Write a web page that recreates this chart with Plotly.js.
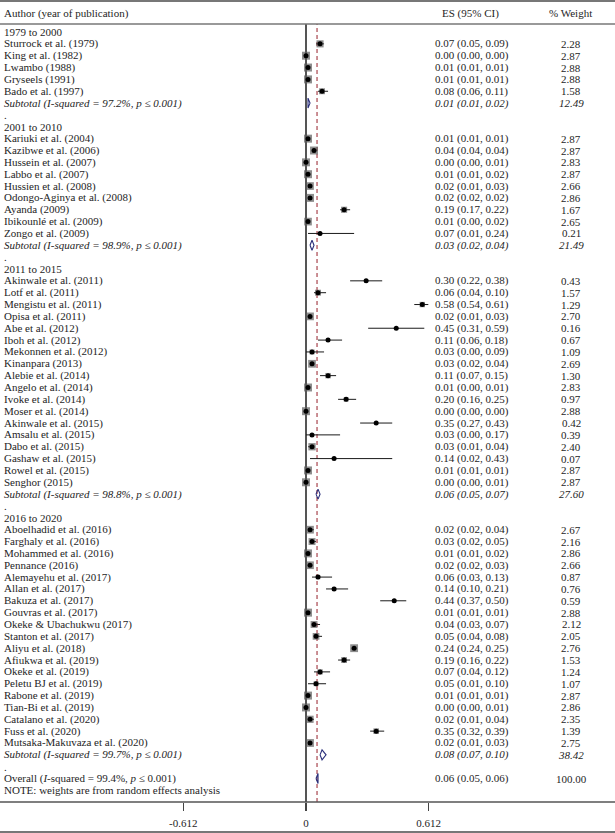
<!DOCTYPE html>
<html>
<head>
<meta charset="utf-8">
<script src="https://cdn.plot.ly/plotly-3.0.1.min.js"></script>
<style>
  html, body { margin: 0; padding: 0; background: #fff; }
  #chart { width: 615px; height: 833px; }
</style>
</head>
<body>
<div id="chart"></div>
<script>
// group headings and subtotal stats
const groupLabels = ['1979 to 2000', '2001 to 2010', '2011 to 2015', '2016 to 2020'];
const groupI2 = ['97.2%', '98.9%', '98.8%', '99.7%'];
const subEs = [0.01, 0.03, 0.06, 0.08];
const subLo = [0.01, 0.02, 0.05, 0.07];
const subHi = [0.02, 0.04, 0.07, 0.10];
const subWeight = [12.49, 21.49, 27.60, 38.42];

// studies
const studyNames = [
  'Sturrock et al. (1979)', 'King et al. (1982)', 'Lwambo (1988)', 'Gryseels (1991)', 'Bado et al. (1997)',
  'Kariuki et al. (2004)', 'Kazibwe et al. (2006)', 'Hussein et al. (2007)', 'Labbo et al. (2007)',
  'Hussien et al. (2008)', 'Odongo-Aginya et al. (2008)', 'Ayanda (2009)', 'Ibikounlé et al. (2009)', 'Zongo et al. (2009)',
  'Akinwale et al. (2011)', 'Lotf et al. (2011)', 'Mengistu et al. (2011)', 'Opisa et al. (2011)', 'Abe et al. (2012)',
  'Iboh et al. (2012)', 'Mekonnen et al. (2012)', 'Kinanpara (2013)', 'Alebie et al. (2014)', 'Angelo et al. (2014)',
  'Ivoke et al. (2014)', 'Moser et al. (2014)', 'Akinwale et al. (2015)', 'Amsalu et al. (2015)', 'Dabo et al. (2015)',
  'Gashaw et al. (2015)', 'Rowel et al. (2015)', 'Senghor (2015)',
  'Aboelhadid et al. (2016)', 'Farghaly et al. (2016)', 'Mohammed et al. (2016)', 'Pennance (2016)',
  'Alemayehu et al. (2017)', 'Allan et al. (2017)', 'Bakuza et al. (2017)', 'Gouvras et al. (2017)',
  'Okeke & Ubachukwu (2017)', 'Stanton et al. (2017)', 'Aliyu et al. (2018)', 'Afiukwa et al. (2019)',
  'Okeke et al. (2019)', 'Peletu BJ et al. (2019)', 'Rabone et al. (2019)', 'Tian-Bi et al. (2019)',
  'Catalano et al. (2020)', 'Fuss et al. (2020)', 'Mutsaka-Makuvaza et al. (2020)'
];
const studyGroup = [
  0, 0, 0, 0, 0,
  1, 1, 1, 1, 1, 1, 1, 1, 1,
  2, 2, 2, 2, 2, 2, 2, 2, 2, 2, 2, 2, 2, 2, 2, 2, 2, 2,
  3, 3, 3, 3, 3, 3, 3, 3, 3, 3, 3, 3, 3, 3, 3, 3, 3, 3, 3
];
const studyEs = [
  0.07, 0.00, 0.01, 0.01, 0.08,
  0.01, 0.04, 0.00, 0.01, 0.02, 0.02, 0.19, 0.01, 0.07,
  0.30, 0.06, 0.58, 0.02, 0.45, 0.11, 0.03, 0.03, 0.11, 0.01, 0.20, 0.00, 0.35, 0.03, 0.03, 0.14, 0.01, 0.00,
  0.02, 0.03, 0.01, 0.02, 0.06, 0.14, 0.44, 0.01, 0.04, 0.05, 0.24, 0.19, 0.07, 0.05, 0.01, 0.00, 0.02, 0.35, 0.02
];
const studyLo = [
  0.05, 0.00, 0.01, 0.01, 0.06,
  0.01, 0.04, 0.00, 0.01, 0.01, 0.02, 0.17, 0.00, 0.01,
  0.22, 0.04, 0.54, 0.01, 0.31, 0.06, 0.00, 0.02, 0.07, 0.00, 0.16, 0.00, 0.27, 0.00, 0.01, 0.02, 0.01, 0.00,
  0.02, 0.02, 0.01, 0.02, 0.03, 0.10, 0.37, 0.01, 0.03, 0.04, 0.24, 0.16, 0.04, 0.01, 0.01, 0.00, 0.01, 0.32, 0.01
];
const studyHi = [
  0.09, 0.00, 0.01, 0.01, 0.11,
  0.01, 0.04, 0.01, 0.02, 0.03, 0.02, 0.22, 0.02, 0.24,
  0.38, 0.10, 0.61, 0.03, 0.59, 0.18, 0.09, 0.04, 0.15, 0.01, 0.25, 0.00, 0.43, 0.17, 0.04, 0.43, 0.01, 0.01,
  0.04, 0.05, 0.02, 0.03, 0.13, 0.21, 0.50, 0.01, 0.07, 0.08, 0.25, 0.22, 0.12, 0.10, 0.01, 0.01, 0.04, 0.39, 0.03
];
const studyWeight = [
  2.28, 2.87, 2.88, 2.88, 1.58,
  2.87, 2.87, 2.83, 2.87, 2.66, 2.86, 1.67, 2.65, 0.21,
  0.43, 1.57, 1.29, 2.70, 0.16, 0.67, 1.09, 2.69, 1.30, 2.83, 0.97, 2.88, 0.42, 0.39, 2.40, 0.07, 2.87, 2.87,
  2.67, 2.16, 2.86, 2.66, 0.87, 0.76, 0.59, 2.88, 2.12, 2.05, 2.76, 1.53, 1.24, 1.07, 2.87, 2.86, 2.35, 1.39, 2.75
];

// overall pooled estimate
const overallI2 = '99.4%';
const overallEs = 0.06;
const overallLo = 0.05;
const overallHi = 0.06;
const overallWeight = 100.00;

const tickVals = [-0.612, 0, 0.612];
const tickText = ['-0.612', '0', '0.612'];

const FONT = 'Liberation Serif, Times New Roman, serif';
const TXT = '#1e1e1e';
const FS = 11;

function ci(e, l, h) {
  return e.toFixed(2) + ' (' + l.toFixed(2) + ', ' + h.toFixed(2) + ')';
}

// build row layout
const rows = [];
const sRow = [];
const dRow = [];
let r = 0;
groupLabels.forEach(function (g, gi) {
  rows.push({ y: r++, label: g });
  studyNames.forEach(function (n, i) {
    if (studyGroup[i] !== gi) return;
    sRow[i] = r;
    rows.push({ y: r++, label: n, es: ci(studyEs[i], studyLo[i], studyHi[i]), w: studyWeight[i].toFixed(2) });
  });
  dRow[gi] = r;
  rows.push({
    y: r++, italic: true,
    label: 'Subtotal (I-squared = ' + groupI2[gi] + ', p ≤ 0.001)',
    es: ci(subEs[gi], subLo[gi], subHi[gi]), w: subWeight[gi].toFixed(2)
  });
  rows.push({ y: r++, label: '.' });
});
const overallRow = r;
rows.push({
  y: r++, label: 'Overall (<i>I</i>-squared = ' + overallI2 + ', <i>p</i> ≤ 0.001)',
  es: ci(overallEs, overallLo, overallHi), w: overallWeight.toFixed(2)
});
rows.push({ y: r++, label: 'NOTE: weights are from random effects analysis' });

const annotations = [];
function addText(x, y, text, anchor, italic, yref) {
  annotations.push({
    xref: 'paper', yref: yref || 'y', x: x, y: y, text: italic ? '<i>' + text + '</i>' : text,
    xanchor: anchor, yanchor: 'middle', showarrow: false,
    font: { family: FONT, size: FS, color: TXT }, borderpad: 0
  });
}
rows.forEach(function (row) {
  addText(3 / 615, row.y, row.label, 'left', row.italic);
  if (row.es) addText(434 / 615, row.y, row.es, 'left', row.italic);
  if (row.w) addText(571 / 615, row.y, row.w, 'center', row.italic);
});
// column headers (above the plot area)
const hdrY = 1 + 11 / 778;
addText(3 / 615, hdrY, 'Author (year of publication)', 'left', false, 'paper');
addText(441 / 615, hdrY, 'ES (95% CI)', 'left', false, 'paper');
addText(570 / 615, hdrY, '% Weight', 'center', false, 'paper');

// CI whiskers
const ciX = [], ciY = [];
studyNames.forEach(function (n, i) {
  ciX.push(studyLo[i], studyHi[i], null);
  ciY.push(sRow[i], sRow[i], null);
});

// diamonds for subtotals and overall
const dmX = [], dmY = [];
const dh = 0.42;
function diamond(e, l, h, y) {
  dmX.push(l, e, h, e, l, null);
  dmY.push(y, y - dh, y, y + dh, y, null);
}
subEs.forEach(function (e, gi) { diamond(e, subLo[gi], subHi[gi], dRow[gi]); });
diamond(overallEs, overallLo, overallHi, overallRow);

const traces = [
  {
    x: ciX, y: ciY, mode: 'lines', type: 'scatter', hoverinfo: 'skip',
    line: { color: '#1a1a1a', width: 1 }
  },
  {
    x: studyEs, y: sRow, mode: 'markers', type: 'scatter',
    marker: {
      symbol: 'square', color: '#5e5e5e',
      size: studyWeight.map(function (w) { return 8 * Math.sqrt(w / 2.88); }),
      line: { width: 0 }
    }
  },
  {
    x: studyEs, y: sRow, mode: 'markers', type: 'scatter',
    marker: { symbol: 'circle', color: '#000', size: 5, line: { width: 0 } }
  },
  {
    x: dmX, y: dmY, mode: 'lines', type: 'scatter', hoverinfo: 'skip',
    line: { color: '#2a2f7a', width: 1.1 }
  }
];

const pTop = 1 + 23 / 778;
const pBot = -30 / 778;

const layout = {
  width: 615, height: 833,
  margin: { l: 0, r: 0, t: 24, b: 31 },
  paper_bgcolor: '#fff', plot_bgcolor: '#fff',
  showlegend: false,
  xaxis: {
    range: [-306 / 200.5, 309 / 200.5],
    tickvals: tickVals, ticktext: tickText,
    ticks: 'outside', ticklen: 8, tickwidth: 1.2, tickcolor: '#444',
    ticklabelstandoff: 3,
    tickfont: { family: FONT, size: FS, color: TXT },
    showgrid: false, showline: false,
    zeroline: true, zerolinecolor: '#555', zerolinewidth: 1.4,
    fixedrange: true
  },
  yaxis: {
    range: [64.98, -0.675],
    showticklabels: false, showgrid: false, zeroline: false, ticks: '',
    fixedrange: true
  },
  shapes: [
    { type: 'line', xref: 'paper', yref: 'paper', x0: 0, x1: 1, y0: pTop, y1: pTop, line: { color: '#777', width: 2 } },
    { type: 'line', xref: 'paper', yref: 'paper', x0: 0, x1: 1, y0: 1, y1: 1, line: { color: '#777', width: 1.5 } },
    { type: 'line', xref: 'paper', yref: 'paper', x0: 0, x1: 1, y0: 0, y1: 0, line: { color: '#555', width: 1.4 } },
    { type: 'line', xref: 'paper', yref: 'paper', x0: 0, x1: 1, y0: pBot, y1: pBot, line: { color: '#777', width: 2 } },
    {
      type: 'line', xref: 'x', yref: 'paper', x0: overallEs - 0.005, x1: overallEs - 0.005, y0: 0, y1: 1,
      line: { color: '#a8444e', width: 1.2, dash: '4px,3px' }, layer: 'below'
    }
  ],
  annotations: annotations
};

Plotly.newPlot('chart', traces, layout, { displayModeBar: false, staticPlot: true });
</script>
</body>
</html>
